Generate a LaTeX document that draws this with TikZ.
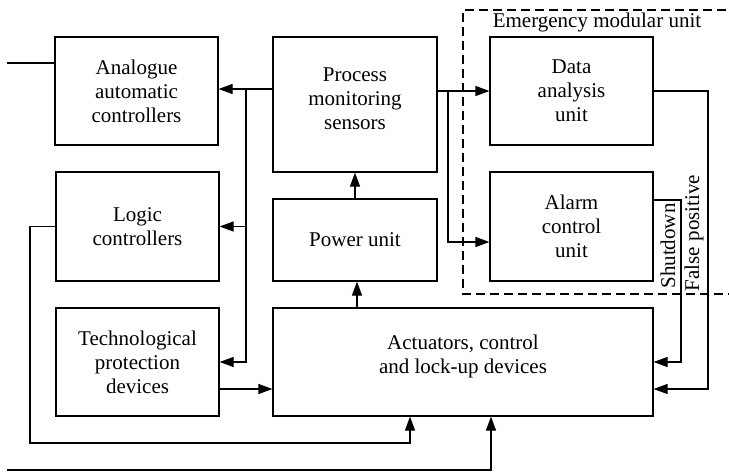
\documentclass[tikz,border=0pt]{standalone}
\usepackage{fontspec}
\setmainfont{Liberation Serif}
\newfontfamily\tnrfont{Liberation Serif}
\usetikzlibrary{arrows.meta}
\begin{document}
\begin{tikzpicture}[x=1pt,y=-1pt,
  every node/.style={font=\tnrfont\fontsize{21}{24}\selectfont},
  blk/.style={draw,line width=1.2pt,align=center,inner sep=0pt},
  conn/.style={line width=1.2pt},
  arr/.style={line width=1.2pt,-{Triangle[length=14pt,width=10pt]}}]
\useasboundingbox (0,0) rectangle (729,472);
% boxes
\node[blk,minimum width=163,minimum height=108] (ana) at (136.5,91) {Analogue\\automatic\\controllers};
\node[blk,minimum width=164,minimum height=135,text depth=12pt] (pms) at (355,104.5) {Process\\monitoring\\sensors};
\node[blk,minimum width=163,minimum height=109] (lgc) at (137.5,226.5) {Logic\\controllers};
\node[blk,minimum width=164,minimum height=82] (pw) at (355,240) {Power unit};
\node[blk,minimum width=163,minimum height=108] (tech) at (137.5,362) {Technological\\protection\\devices};
\node[blk,minimum width=380,minimum height=108,text depth=16pt] (act) at (463,362) {Actuators, control\\and lock-up devices};
\node[blk,minimum width=163,minimum height=108] (da) at (571.5,91) {Data\\analysis\\unit};
\node[blk,minimum width=163,minimum height=109] (al) at (571.5,226.5) {Alarm\\control\\unit};
% emergency modular unit frame
\draw[line width=1.2pt,dash pattern=on 9pt off 5pt] (740,10) -- (463,10) -- (463,294) -- (740,294);
\node (emu) at (597,22) {Emergency modular unit};
% coordinates
\coordinate (in1) at (7,63);
\coordinate (busL) at (246,89);
\coordinate (busB) at (246,362);
\coordinate (busR) at (448,91);
\coordinate (alin) at (448,242);
\coordinate (t2a) at (219,389);
\coordinate (pwx) at (357,0);
\coordinate (lgcorner) at (30,443);
\coordinate (lgx) at (410,443);
\coordinate (in2) at (7,470);
\coordinate (in2x) at (491,470);
\coordinate (sd1) at (681,200);
\coordinate (sd2) at (681,362);
\coordinate (fp1) at (708,91);
\coordinate (fp2) at (708,389);
% connectors
\draw[conn] (in1) -- (in1 -| ana.west);
\draw[arr] (pms.west |- busL) -- (ana.east |- busL);
\draw[arr] (busL) -- (busB) -- (tech.east |- busB);
\draw[arr] (busL |- lgc.east) -- (lgc.east);
\draw[arr] (pms.east |- busR) -- (da.west |- busR);
\draw[arr] (busR) -- (alin) -- (alin -| al.west);
\draw[arr] (pw.north) -- (pms.south);
\draw[arr] (act.north -| pwx) -- (pw.south -| pwx);
\draw[arr] (t2a) -- (t2a -| act.west);
\draw[arr] (lgc.west) -- (lgc.west -| lgcorner) -- (lgcorner) -- (lgx) -- (lgx |- act.south);
\draw[arr] (in2) -- (in2x) -- (in2x |- act.south);
\draw[arr] (al.east |- sd1) -- (sd1) -- (sd2) -- (sd2 -| act.east);
\draw[arr] (da.east |- fp1) -- (fp1) -- (fp2) -- (fp2 -| act.east);
% labels
\node[rotate=90] (sdl) at (668,246) {Shutdown};
\node[rotate=90] (fpl) at (694,233) {False positive};
\end{tikzpicture}
\end{document}
